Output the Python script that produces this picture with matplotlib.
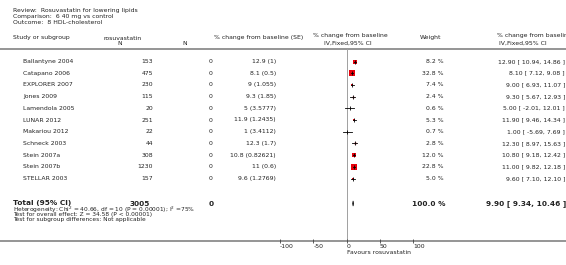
import matplotlib
matplotlib.use("Agg")
import matplotlib.pyplot as plt
import numpy as np

# study data
studies = ["Ballantyne 2004", "Catapano 2006", "EXPLORER 2007", "Jones 2009",
           "Lamendola 2005", "LUNAR 2012", "Makariou 2012", "Schneck 2003",
           "Stein 2007a", "Stein 2007b", "STELLAR 2003"]
n_rosu = [153, 475, 230, 115, 20, 251, 22, 44, 308, 1230, 157]
n_ctrl = [0, 0, 0, 0, 0, 0, 0, 0, 0, 0, 0]
se_text = ["12.9 (1)", "8.1 (0.5)", "9 (1.055)", "9.3 (1.85)", "5 (3.5777)",
           "11.9 (1.2435)", "1 (3.4112)", "12.3 (1.7)", "10.8 (0.82621)",
           "11 (0.6)", "9.6 (1.2769)"]
est = [12.90, 8.10, 9.00, 9.30, 5.00, 11.90, 1.00, 12.30, 10.80, 11.00, 9.60]
lo = [10.94, 7.12, 6.93, 5.67, -2.01, 9.46, -5.69, 8.97, 9.18, 9.82, 7.10]
hi = [14.86, 9.08, 11.07, 12.93, 12.01, 14.34, 7.69, 15.63, 12.42, 12.18, 12.10]
weight = [8.2, 32.8, 7.4, 2.4, 0.6, 5.3, 0.7, 2.8, 12.0, 22.8, 5.0]

total_n = [3005, 0]
total_est, total_lo, total_hi = 9.90, 9.34, 10.46
ticks = [-100, -50, 0, 50, 100]

W, H = 566, 265
fig = plt.figure(figsize=(W / 100, H / 100), dpi=100)
plt.rcParams['font.family'] = ['DejaVu Sans']

# layout axes in pixel units
lay = fig.add_axes([0, 0, 1, 1])
lay.set_xlim(0, W)
lay.set_ylim(H, 0)
lay.axis("off")

tc = "#222222"
fs = 4.4
row_y = [61.5 + 11.7 * i for i in range(len(studies))]
tot_y = 203.5
top_line, axis_line = 49, 241

# title block
lay.text(13, 10.5, "Review:  Rosuvastatin for lowering lipids", fontsize=fs, color=tc, va="center")
lay.text(13, 16.5, "Comparison:  6 40 mg vs control", fontsize=fs, color=tc, va="center")
lay.text(13, 22.5, "Outcome:  8 HDL-cholesterol", fontsize=fs, color=tc, va="center")

# column headers
lay.text(13, 38, "Study or subgroup", fontsize=fs, color=tc, va="center")
lay.text(103, 38, "rosuvastatin", fontsize=fs, color=tc, va="center")
lay.text(120, 43.5, "N", fontsize=fs, color=tc, va="center", ha="center")
lay.text(185, 43.5, "N", fontsize=fs, color=tc, va="center", ha="center")
lay.text(214, 38, "% change from baseline (SE)", fontsize=fs, color=tc, va="center")
lay.text(350, 36, "% change from baseline", fontsize=fs, color=tc, va="center", ha="center")
lay.text(348, 43.5, "IV,Fixed,95% CI", fontsize=fs, color=tc, va="center", ha="center")
lay.text(431, 38, "Weight", fontsize=fs, color=tc, va="center", ha="center")
lay.text(497, 36, "% change from baseline", fontsize=fs, color=tc, va="center")
lay.text(499, 43.5, "IV,Fixed,95% CI", fontsize=fs, color=tc, va="center")

lay.plot([0, W], [top_line, top_line], color="#8c8c8c", lw=1.3, solid_capstyle="butt")
lay.plot([0, W], [axis_line, axis_line], color="#8c8c8c", lw=1.3, solid_capstyle="butt")

# study rows
for i, y in enumerate(row_y):
    lay.text(23, y, studies[i], fontsize=fs, color=tc, va="center")
    lay.text(153, y, str(n_rosu[i]), fontsize=fs, color=tc, va="center", ha="right")
    lay.text(211, y, str(n_ctrl[i]), fontsize=fs, color=tc, va="center", ha="center")
    lay.text(276, y, se_text[i], fontsize=fs, color=tc, va="center", ha="right")
    lay.text(444, y, "%.1f %%" % weight[i], fontsize=fs, color=tc, va="center", ha="right")
    lay.text(565, y, "%.2f [ %.2f, %.2f ]" % (est[i], lo[i], hi[i]),
             fontsize=fs, color=tc, va="center", ha="right")

# total block
fb = 5.3
lay.text(13, tot_y, "Total (95% CI)", fontsize=fb, color=tc, va="center", weight="bold")
lay.text(150, tot_y, str(total_n[0]), fontsize=fb, color=tc, va="center", ha="right", weight="bold")
lay.text(211, tot_y, str(total_n[1]), fontsize=fb, color=tc, va="center", ha="center", weight="bold")
lay.text(446, tot_y, "%.1f %%" % sum(weight), fontsize=fb, color=tc, va="center", ha="right", weight="bold")
lay.text(566, tot_y, "%.2f [ %.2f, %.2f ]" % (total_est, total_lo, total_hi),
         fontsize=fb, color=tc, va="center", ha="right", weight="bold")
fh = 4.2
lay.text(13, 209.8, "Heterogeneity: Chi$^2$ = 40.66, df = 10 (P = 0.00001); I$^2$ =75%",
         fontsize=fh, color=tc, va="center")
lay.text(13, 214.8, "Test for overall effect: Z = 34.58 (P < 0.00001)", fontsize=fh, color=tc, va="center")
lay.text(13, 219.8, "Test for subgroup differences: Not applicable", fontsize=fh, color=tc, va="center")

# forest panel: x in effect units, y in pixel rows
x0, x1 = 280, 413
fa = fig.add_axes([x0 / W, (H - axis_line) / H, (x1 - x0) / W, (axis_line - top_line) / H])
fa.set_xlim(-100, 100)
fa.set_ylim(axis_line, top_line)
fa.patch.set_visible(False)
for s in fa.spines.values():
    s.set_visible(False)
fa.set_yticks([])
fa.set_xticks(ticks)
fa.set_xticklabels([str(t) for t in ticks])
fa.tick_params(axis="x", direction="inout", length=3, width=0.6, color="#444444",
               labelsize=fs, labelcolor=tc, pad=1)
for lab in fa.get_xticklabels():
    lab.set_ha("left")
fa.axvline(0, color="#a0a0a0", lw=0.7, zorder=0)

for i, y in enumerate(row_y):
    side_px = 1.05 * np.sqrt(weight[i])
    fa.plot(est[i], y, marker="s", color="#e8000b", markersize=side_px * 0.72,
            markeredgewidth=0, zorder=2)
    fa.plot([lo[i], hi[i]], [y, y], color="black", lw=0.6, zorder=3)
    fa.plot(est[i], y, marker="|", color="black", markersize=2.6, markeredgewidth=0.6, zorder=4)

dh = 2.6
fa.fill([total_lo, total_est, total_hi, total_est],
        [tot_y, tot_y - dh, tot_y, tot_y + dh],
        facecolor="black", edgecolor="black", lw=0.5, zorder=3)

lay.text(347, 252, "Favours rosuvastatin", fontsize=fs, color=tc, va="center")

fig.savefig("out.png", dpi=100)
